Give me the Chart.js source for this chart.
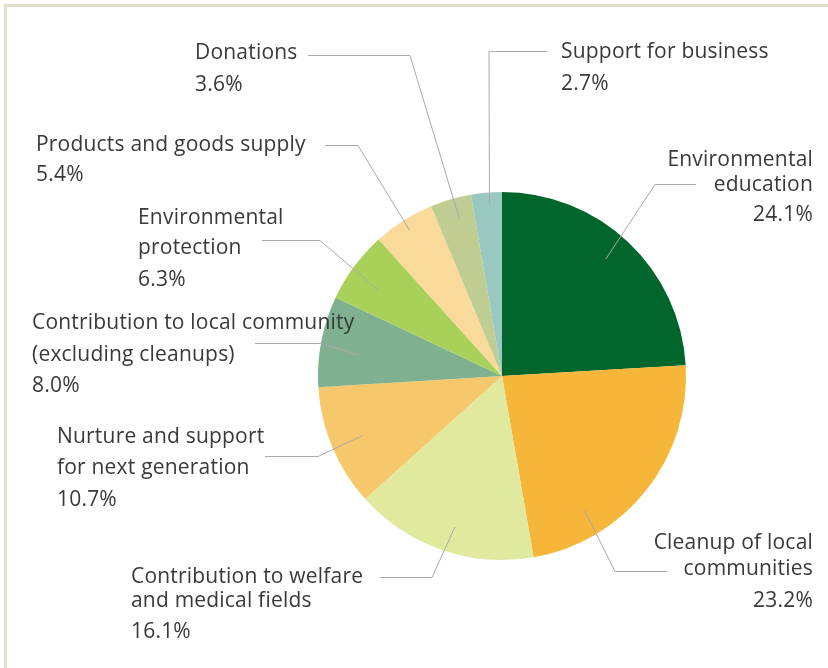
<!DOCTYPE html>
<html>
<head>
<meta charset="utf-8">
<script src="https://cdn.jsdelivr.net/npm/chart.js@4.4.1/dist/chart.umd.min.js"></script>
<style>
  html, body { margin: 0; padding: 0; background: #ffffff; }
  #wrap { position: relative; width: 828px; height: 668px; overflow: hidden; background: #ffffff; }
  #frame { position: absolute; left: 4px; top: 4px; right: -10px; bottom: -10px;
           border-top: 3px solid #e4ddcc; border-left: 3px solid #e4ddcc; pointer-events: none; }
  canvas { position: absolute; left: 0; top: 0; }
</style>
</head>
<body>
<div id="wrap">
  <canvas id="pie" width="828" height="668"></canvas>
  <div id="frame"></div>
</div>
<script>
// Activity categories, clockwise from 12 o'clock
const categories = [
  ["Environmental", "education"],
  ["Cleanup of local", "communities"],
  ["Contribution to welfare", "and medical fields"],
  ["Nurture and support", "for next generation"],
  ["Contribution to local community", "(excluding cleanups)"],
  ["Environmental", "protection"],
  ["Products and goods supply"],
  ["Donations"],
  ["Support for business"]
];

// Share of activities (%)
const shares = [24.1, 23.2, 16.1, 10.7, 8.0, 6.3, 5.4, 3.6, 2.7];

const sliceColors = [
  "#00662b", "#f6b63a", "#e0e99e", "#f7c86b", "#7fb08f",
  "#a9d15a", "#f9da9b", "#bfcd92", "#98c8bf"
];

// Callout layout: text anchor, alignment, line offsets, leader path
// (text-side start, elbow) and where the leader meets the slice
// (fraction across the slice's angle, fraction of the radius).
const callouts = [
  { x: 813, y: 160, align: "right", lines: [0, 25, 55], path: [[696, 184], [655, 184]], t: 0.48, r: 0.85 },
  { x: 813, y: 543, align: "right", lines: [0, 26, 58], path: [[667, 571], [615, 571]], t: 0.74, r: 0.86 },
  { x: 131, y: 577, align: "left",  lines: [0, 24, 55], path: [[380, 577], [432, 577]], t: 0.47, r: 0.86 },
  { x: 57,  y: 437, align: "left",  lines: [0, 31, 63], path: [[265, 456], [318, 456]], t: 0.49, r: 0.82 },
  { x: 32,  y: 323, align: "left",  lines: [0, 32, 63], path: [[255, 343], [322, 343]], t: 0.41, r: 0.79 },
  { x: 138, y: 218, align: "left",  lines: [0, 30, 62], path: [[262, 240], [320, 240]], t: 0.42, r: 0.82 },
  { x: 36,  y: 145, align: "left",  lines: [0, 30],     path: [[325, 145], [358, 145]], t: 0.50, r: 0.94 },
  { x: 195, y: 53,  align: "left",  lines: [0, 32],     path: [[308, 55], [410, 55]],  t: 0.58, r: 0.885 },
  { x: 561, y: 52,  align: "left",  lines: [0, 32],     path: [[547, 51], [489, 51]],  t: 0.57, r: 0.935 }
];

const calloutPlugin = {
  id: "callouts",
  afterDatasetsDraw(chart) {
    const ctx = chart.ctx;
    const arcs = chart.getDatasetMeta(0).data;
    ctx.save();
    arcs.forEach((arc, i) => {
      const c = callouts[i];
      const p = arc.getProps(["x", "y", "startAngle", "endAngle", "outerRadius"], true);
      const a = p.startAngle + c.t * (p.endAngle - p.startAngle);
      const ex = p.x + Math.cos(a) * p.outerRadius * c.r;
      const ey = p.y + Math.sin(a) * p.outerRadius * c.r;

      ctx.strokeStyle = "#a9a9a9";
      ctx.lineWidth = 1;
      ctx.beginPath();
      ctx.moveTo(c.path[0][0], c.path[0][1] + 0.5);
      ctx.lineTo(c.path[1][0], c.path[1][1] + 0.5);
      ctx.lineTo(ex, ey);
      ctx.stroke();

      const text = categories[i].concat([shares[i].toFixed(1) + "%"]);
      ctx.fillStyle = "#393939";
      ctx.font = "21px 'Open Sans', sans-serif";
      if ("letterSpacing" in ctx) ctx.letterSpacing = "0.2px";
      ctx.textAlign = c.align;
      ctx.textBaseline = "middle";
      text.forEach((line, k) => ctx.fillText(line, c.x, c.y + c.lines[k]));
    });
    ctx.restore();
  }
};

new Chart(document.getElementById("pie"), {
  type: "pie",
  data: {
    labels: categories.map(l => l.join(" ")),
    datasets: [{
      data: shares,
      backgroundColor: sliceColors,
      borderWidth: 0,
      hoverOffset: 0
    }]
  },
  options: {
    responsive: false,
    animation: false,
    events: [],
    layout: { padding: { left: 318, right: 142, top: 192, bottom: 108 } },
    plugins: {
      legend: { display: false },
      tooltip: { enabled: false },
      title: { display: false }
    }
  },
  plugins: [calloutPlugin]
});
</script>
</body>
</html>
